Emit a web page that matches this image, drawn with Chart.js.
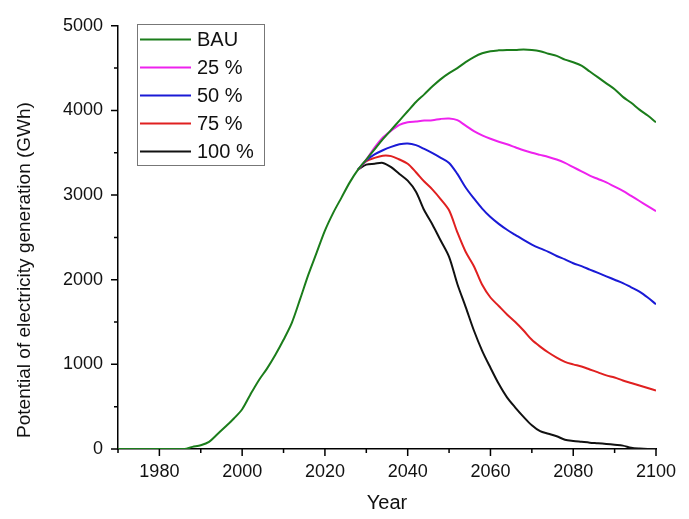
<!DOCTYPE html>
<html lang="en">
<head>
    <meta charset="UTF-8">
    <title>Electricity generation potential</title>
    <style>
        body { margin: 0; background: #fff; }
        .wrap-chart { width: 689px; height: 519px; }
    </style>
</head>
<body>
    <div class="wrap-chart">
        <canvas id="myChart"></canvas>
    </div>

    <script src="https://cdn.jsdelivr.net/npm/chart.js"></script>
    <script>
        // values
        const years = [1970, 1986, 1988, 1990, 1992, 1994, 1996, 1998,
            2000, 2002, 2004, 2006, 2008, 2010, 2012, 2014, 2016, 2018, 2020, 2022, 2024, 2026, 2028,
            2030, 2032, 2034, 2036, 2038, 2040, 2042, 2044, 2046, 2048, 2050, 2052, 2054, 2056, 2058,
            2060, 2062, 2064, 2066, 2068, 2070, 2072, 2074, 2076, 2078, 2080, 2082, 2084, 2086, 2088,
            2090, 2092, 2094, 2096, 2098, 2100];
        const bau = [0, 0, 25, 45, 85, 175, 265, 360,
            470, 645, 810, 950, 1110, 1290, 1490, 1770, 2060, 2320, 2580, 2790, 2970, 3150, 3300,
            3420, 3540, 3660, 3770, 3880, 3990, 4100, 4190, 4285, 4370, 4440, 4500, 4570, 4630, 4675,
            4700, 4710, 4715, 4715, 4720, 4715, 4700, 4670, 4645, 4600, 4570, 4530, 4460, 4390, 4320,
            4250, 4160, 4090, 4010, 3940, 3860];

        const scenarioYears = [2028, 2030, 2032, 2034, 2036, 2038, 2040, 2042, 2044, 2046, 2048,
            2050, 2052, 2054, 2056, 2058, 2060, 2062, 2064, 2066, 2068, 2070, 2072, 2074, 2076, 2078,
            2080, 2082, 2084, 2086, 2088, 2090, 2092, 2094, 2096, 2098, 2100];
        const p25 = [3300, 3420, 3560, 3680, 3760, 3830, 3860, 3870, 3880, 3885, 3900,
            3905, 3885, 3820, 3755, 3705, 3665, 3630, 3600, 3565, 3530, 3500, 3475, 3450, 3420, 3380,
            3330, 3280, 3230, 3190, 3150, 3100, 3050, 2990, 2930, 2870, 2810];
        const p50 = [3300, 3410, 3480, 3530, 3570, 3600, 3610, 3590, 3545, 3495, 3440,
            3380, 3250, 3090, 2960, 2840, 2740, 2660, 2590, 2530, 2470, 2415, 2370, 2330, 2280, 2240,
            2195, 2160, 2120, 2080, 2040, 2000, 1960, 1910, 1860, 1790, 1710];
        const p75 = [3300, 3400, 3440, 3465, 3460, 3420, 3370, 3270, 3160, 3065, 2950,
            2820, 2560, 2330, 2160, 1940, 1790, 1690, 1590, 1500, 1400, 1290, 1210, 1140, 1080, 1030,
            1000, 975, 940, 905, 870, 845, 810, 780, 750, 720, 690];
        const p100 = [3300, 3360, 3370, 3380, 3330, 3250, 3170, 3040, 2820, 2650, 2460,
            2270, 1950, 1680, 1400, 1160, 960, 770, 610, 490, 380, 280, 210, 180, 150, 110,
            95, 85, 75, 68, 60, 50, 40, 15, 5, 0, 0];

        const xTicks = [1980, 2000, 2020, 2040, 2060, 2080, 2100];
        const yTicks = [0, 1000, 2000, 3000, 4000, 5000];

        const FONT = 'Liberation Sans, Arial, sans-serif';

        function pts(xs, ys) {
            return xs.map((x, i) => ({ x: x, y: ys[i] }));
        }
        function series(label, xs, ys, color) {
            return {
                label: label,
                data: pts(xs, ys),
                borderColor: color,
                backgroundColor: color,
                borderWidth: 2,
                pointRadius: 0,
                tension: 0.3,
                fill: false,
            };
        }

        const data = {
            datasets: [
                series('BAU', years, bau, '#1b7d1b'),
                series('25 %', scenarioYears, p25, '#ee22ee'),
                series('50 %', scenarioYears, p50, '#1a1ad6'),
                series('75 %', scenarioYears, p75, '#e02020'),
                series('100 %', scenarioYears, p100, '#111111'),
            ]
        };

        // major/minor tick marks, y title and boxed legend
        const decor = {
            id: 'decor',
            afterDraw(chart) {
                const { ctx, chartArea: { left, bottom }, scales: { x, y } } = chart;
                ctx.save();
                ctx.strokeStyle = '#000';
                ctx.lineWidth = 1.5;
                ctx.beginPath();
                for (let v = 1970; v <= 2100; v += 10) {
                    const px = x.getPixelForValue(v);
                    const len = v % 20 === 0 ? 7 : 4;
                    ctx.moveTo(px, bottom);
                    ctx.lineTo(px, bottom + len);
                }
                for (let v = 0; v <= 5000; v += 500) {
                    const py = y.getPixelForValue(v);
                    const len = v % 1000 === 0 ? 7 : 4;
                    ctx.moveTo(left, py);
                    ctx.lineTo(left - len, py);
                }
                ctx.stroke();

                // y axis title
                ctx.fillStyle = '#111';
                ctx.font = '19px ' + FONT;
                ctx.textAlign = 'center';
                ctx.textBaseline = 'middle';
                ctx.translate(25, 270);
                ctx.rotate(-Math.PI / 2);
                ctx.fillText('Potential of electricity generation (GWh)', 0, 0);
                ctx.restore();

                // legend
                ctx.save();
                ctx.strokeStyle = '#777';
                ctx.lineWidth = 1;
                ctx.strokeRect(137.5, 24.5, 127, 141);
                ctx.font = '20px ' + FONT;
                ctx.textBaseline = 'middle';
                ctx.textAlign = 'left';
                chart.data.datasets.forEach((ds, i) => {
                    const ly = 39.5 + i * 28;
                    ctx.strokeStyle = ds.borderColor;
                    ctx.lineWidth = 2;
                    ctx.beginPath();
                    ctx.moveTo(140, ly);
                    ctx.lineTo(191, ly);
                    ctx.stroke();
                    ctx.fillStyle = '#111';
                    ctx.fillText(ds.label, 197, ly + 1);
                });
                ctx.restore();
            }
        };

        new Chart(document.getElementById('myChart'), {
            type: 'line',
            data: data,
            plugins: [decor],
            options: {
                responsive: true,
                maintainAspectRatio: false,
                animation: false,
                layout: { padding: { top: 14, right: 33, bottom: 0, left: 0 } },
                plugins: {
                    legend: { display: false },
                    tooltip: { enabled: false },
                },
                scales: {
                    x: {
                        type: 'linear',
                        min: 1970,
                        max: 2100,
                        afterBuildTicks: (s) => { s.ticks = xTicks.map(v => ({ value: v })); },
                        afterFit: (s) => { s.height = 70; },
                        grid: { display: false, drawTicks: false },
                        border: { display: true, color: '#000', width: 1.5 },
                        ticks: {
                            autoSkip: false,
                            maxRotation: 0,
                            padding: 12,
                            color: '#111',
                            font: { family: FONT, size: 18 },
                            callback: (v) => String(v),
                        },
                        title: {
                            display: true,
                            text: 'Year',
                            color: '#111',
                            font: { family: FONT, size: 20 },
                            padding: { top: 0, bottom: 4 },
                        },
                    },
                    y: {
                        min: 0,
                        max: 5000,
                        afterBuildTicks: (s) => { s.ticks = yTicks.map(v => ({ value: v })); },
                        afterFit: (s) => { s.width = 118; },
                        grid: { display: false, drawTicks: false },
                        border: { display: true, color: '#000', width: 1.5 },
                        ticks: {
                            padding: 15,
                            color: '#111',
                            font: { family: FONT, size: 18 },
                            callback: (v) => String(v),
                        },
                    },
                },
            },
        });
    </script>
</body>
</html>
